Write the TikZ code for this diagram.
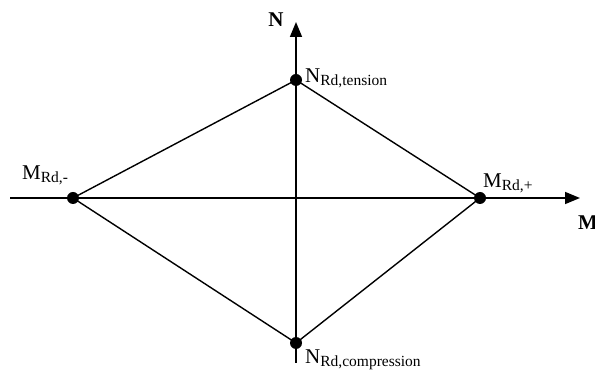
\documentclass[tikz,border=0pt]{standalone}
\usepackage{fontspec}
\setmainfont{Liberation Serif}
\usetikzlibrary{arrows.meta}
\newcommand\sublbl[2]{#1\raisebox{-0.3ex}{\fontsize{15.5}{15.5}\selectfont #2}}
\begin{document}
\begin{tikzpicture}[x=1pt,y=-1pt,
  axis/.style={line width=1.6pt,-{Triangle[length=15pt,width=12pt]}},
  edge/.style={line width=1.4pt},
  dot/.style={circle,fill=black,inner sep=0pt,minimum size=12pt},
  lbl/.style={inner sep=0pt,anchor=base west,font=\fontsize{21}{21}\selectfont}]
\useasboundingbox (0,0) rectangle (595,371);
\node[dot] (top) at (296,80) {};
\node[dot] (bot) at (296,343) {};
\node[dot] (left) at (73,198) {};
\node[dot] (right) at (480,198) {};
\coordinate (hs) at (10,198);
\coordinate (he) at (580,198);
\coordinate (vs) at (296,363);
\coordinate (ve) at (296,22);
\draw[axis] (hs) -- (he);
\draw[axis] (vs) -- (ve);
\draw[edge] (left.center) -- (top.center) -- (right.center) -- (bot.center) -- cycle;
\node[lbl,anchor=center,font=\fontsize{21}{21}\selectfont\bfseries] (nlab) at (276,20) {N};
\node[lbl] (tl) at (305,83) {\sublbl{N}{Rd,tension}};
\node[lbl] (ll) at (22,180) {\sublbl{M}{Rd,-}};
\node[lbl] (rl) at (483,188) {\sublbl{M}{Rd,+}};
\node[lbl,font=\fontsize{21}{21}\selectfont\bfseries] (mlab) at (578,230) {M};
\node[lbl] (bl) at (305,364) {\sublbl{N}{Rd,compression}};
\end{tikzpicture}
\end{document}
